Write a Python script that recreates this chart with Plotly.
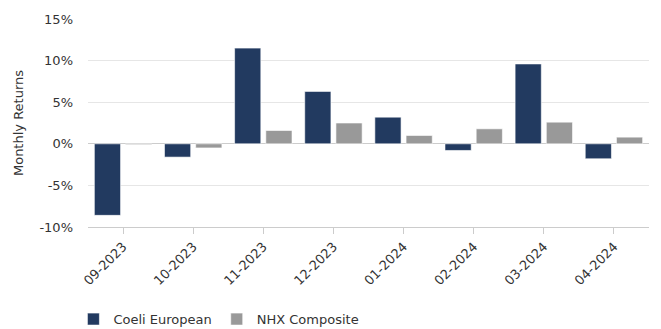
import plotly.graph_objects as go

months = ["09-2023", "10-2023", "11-2023", "12-2023", "01-2024", "02-2024", "03-2024", "04-2024"]
coeli = [-8.6, -1.6, 11.5, 6.3, 3.2, -0.8, 9.6, -1.8]
nhx = [-0.1, -0.5, 1.6, 2.5, 1.0, 1.8, 2.6, 0.8]
y_ticks = [-10, -5, 0, 5, 10, 15]
y_tick_labels = ["-10%", "-5%", "0%", "5%", "10%", "15%"]

FONT = "DejaVu Sans"

fig = go.Figure()
fig.add_trace(go.Bar(x=months, y=coeli, name="Coeli European",
                     marker=dict(color="#223a60", line=dict(color="#ffffff", width=0.6))))
fig.add_trace(go.Bar(x=months, y=nhx, name="NHX Composite",
                     marker=dict(color="#999999", line=dict(color="#ffffff", width=0.6))))

fig.update_layout(
    width=661, height=329,
    margin=dict(l=88, r=12, t=14, b=102),
    paper_bgcolor="white", plot_bgcolor="white",
    barmode="group", bargap=0.11, bargroupgap=0.16,
    font=dict(family=FONT, size=13, color="#333333"),
    showlegend=True,
    legend=dict(orientation="h", x=-0.026, xanchor="left", xref="paper",
                y=0.03, yanchor="middle", yref="container",
                font=dict(family=FONT, size=13, color="#333333"),
                itemwidth=30, tracegroupgap=0),
    xaxis=dict(
        type="category", tickangle=-45,
        showline=True, linecolor="#cccccc", linewidth=1,
        ticks="outside", ticklen=6, tickcolor="#cccccc",
        showgrid=False, zeroline=False,
        tickfont=dict(family=FONT, size=13, color="#333333"),
    ),
    yaxis=dict(
        range=[-10, 15], tickvals=y_ticks, ticktext=y_tick_labels,
        showgrid=True, gridcolor="#e6e6e6", gridwidth=1,
        zeroline=True, zerolinecolor="#cccccc", zerolinewidth=1,
        showline=False, ticks="", ticklabelstandoff=14,
        title=dict(text="Monthly Returns", standoff=12,
                   font=dict(family=FONT, size=13, color="#333333")),
        tickfont=dict(family=FONT, size=13, color="#333333"),
    ),
)

fig.write_html("out.html")
